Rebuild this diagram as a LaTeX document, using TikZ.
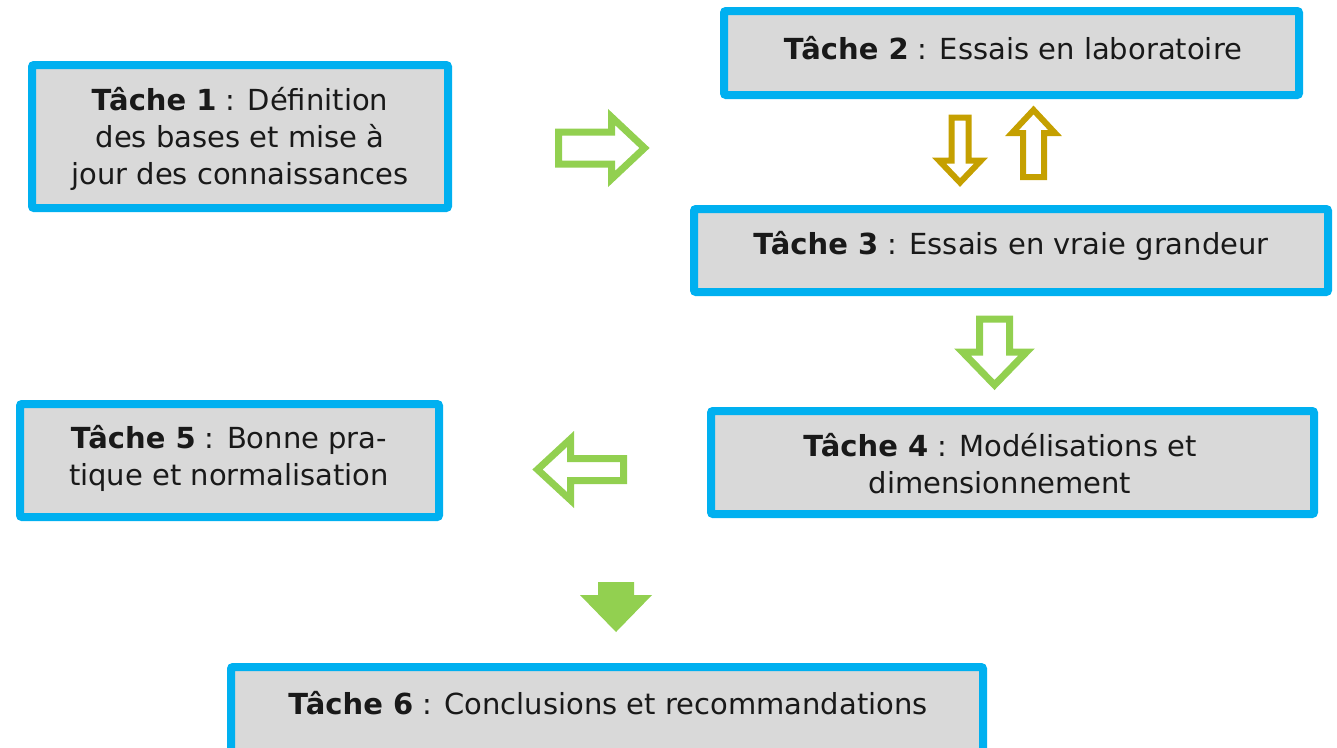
\documentclass[tikz,border=0pt]{standalone}
\usepackage{fontspec}
\setmainfont{DejaVu Sans}
\definecolor{bluebd}{HTML}{00B0F0}
\definecolor{boxgray}{HTML}{D9D9D9}
\definecolor{arrgreen}{HTML}{92D050}
\definecolor{arrgold}{HTML}{C5A000}
\newcommand\blockarrow[8]{%
  \begin{scope}[shift={(#1,#2)},rotate=#3]
    \draw[#8] (-#4/2,-#5/2) -- (#4/2-#7,-#5/2) -- (#4/2-#7,-#6/2) -- (#4/2,0)
      -- (#4/2-#7,#6/2) -- (#4/2-#7,#5/2) -- (-#4/2,#5/2) -- cycle;
  \end{scope}}
\tikzset{
  taskbox/.style={draw=bluebd, fill=boxgray, line width=8pt, rounded corners=2pt, inner sep=0pt},
  tasktext/.style={align=center, inner sep=0pt, font=\fontsize{29}{37}\selectfont, text=black!90},
  greenout/.style={draw=arrgreen, fill=white, line width=7pt, line join=miter},
  goldout/.style={draw=arrgold, fill=white, line width=6pt, line join=miter},
  greenfill/.style={draw=none, fill=arrgreen}
}
\begin{document}
\begin{tikzpicture}[x=1pt,y=-1pt]
\useasboundingbox (0,0) rectangle (1337,747);
\begin{scope}
\clip (0,0) rectangle (1337,747);
\node[taskbox, minimum width=416pt, minimum height=143pt] (b1) at (240,136.5) {};
\node[taskbox, minimum width=575pt, minimum height=84pt] (b2) at (1011.5,53) {};
\node[taskbox, minimum width=634pt, minimum height=83pt] (b3) at (1011,250.5) {};
\node[taskbox, minimum width=603pt, minimum height=103pt] (b4) at (1012.5,462.5) {};
\node[taskbox, minimum width=419pt, minimum height=113pt] (b5) at (229.5,460.5) {};
\node[taskbox, minimum width=752pt, minimum height=94pt] (b6) at (607,714) {};
\end{scope}
\node[tasktext] (t1) at (240,139) {\textbf{Tâche 1} : Définition\\des bases et mise à\\jour des connaissances};
\node[tasktext] (t2) at (1013,48) {\textbf{Tâche 2} : Essais en laboratoire};
\node[tasktext] (t3) at (1011,246) {\textbf{Tâche 3} : Essais en vraie grandeur};
\node[tasktext] (t4) at (1000,464) {\textbf{Tâche 4} : Modélisations et\\dimensionnement};
\node[tasktext] (t5) at (229,458) {\textbf{Tâche 5} : Bonne pra-\\tique et normalisation};
\node[tasktext] (t6) at (608,703) {\textbf{Tâche 6} : Conclusions et recommandations};
% block arrows: x, y, angle, length, shaft, head width, head length, style
\blockarrow{601.5}{148}{0}{86}{32}{62}{33}{greenout}
\blockarrow{580.5}{469.5}{180}{86}{22}{61}{33}{greenout}
\blockarrow{994.5}{352}{-90}{66}{30}{64}{33}{greenout}
\blockarrow{960}{150}{-90}{65}{17}{42}{22}{goldout}
\blockarrow{1033.5}{143.5}{90}{67}{21}{43}{23}{goldout}
\blockarrow{616}{607}{-90}{50}{36}{72}{37}{greenfill}
\end{tikzpicture}
\end{document}
